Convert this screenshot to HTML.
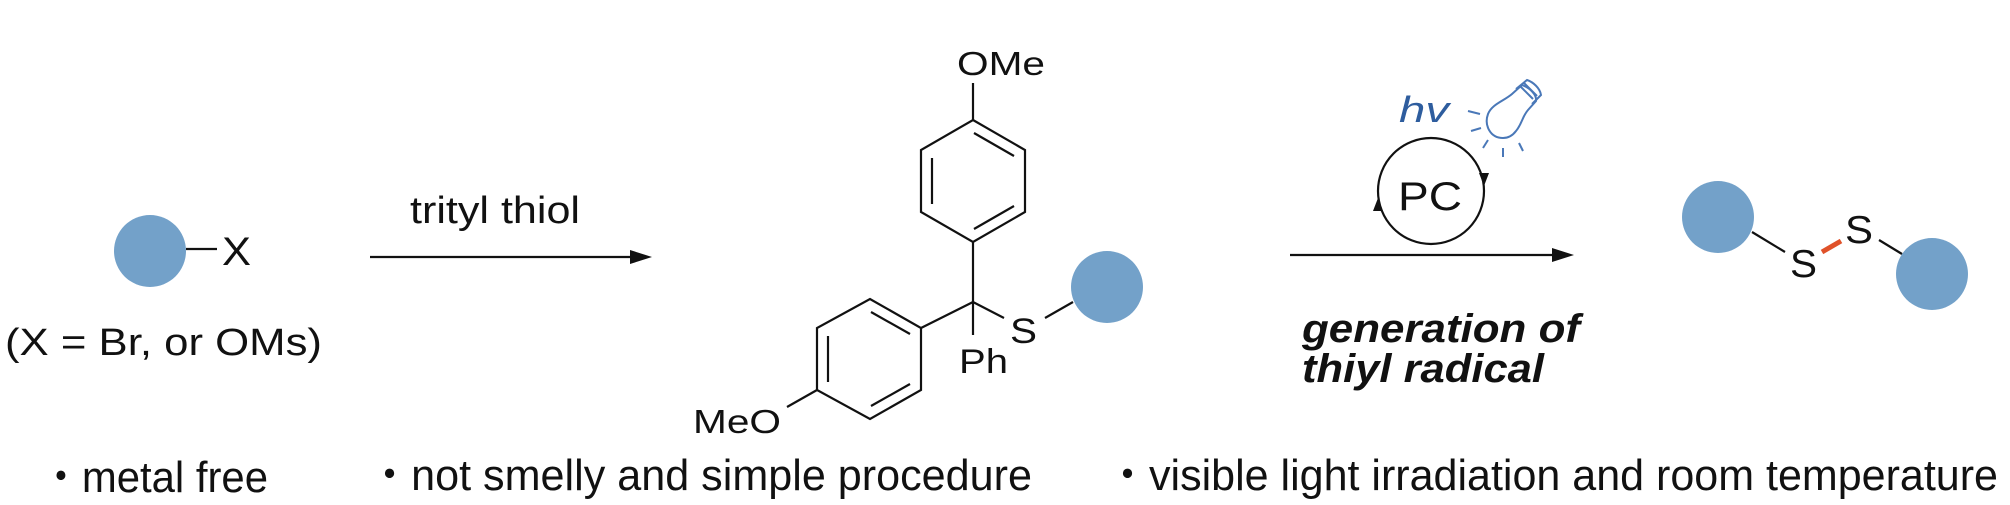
<!DOCTYPE html>
<html><head><meta charset="utf-8"><style>
html,body{margin:0;padding:0;background:#fff;}
svg{display:block;}
text{font-family:"Liberation Sans",sans-serif;fill:#111;}
</style></head><body>
<svg width="2010" height="505" viewBox="0 0 2010 505" xmlns="http://www.w3.org/2000/svg">
<g stroke="#111" stroke-width="2.2" fill="none">
  <line x1="186" y1="249" x2="217" y2="249"/>
  <line x1="370" y1="257" x2="636" y2="257"/>
  <line x1="973" y1="83" x2="973" y2="120"/>
  <polygon points="973,120 1025,150 1025,212 973,242 921,212 921,150"/>
  <line x1="932" y1="158" x2="932" y2="204"/>
  <line x1="1014" y1="156" x2="974" y2="133"/>
  <line x1="1014" y1="206" x2="974" y2="229"/>
  <line x1="973" y1="242" x2="973" y2="302"/>
  <line x1="973" y1="302" x2="973" y2="335"/>
  <line x1="973" y1="302" x2="921" y2="328"/>
  <polygon points="921,328 921,390 870,419 817,390 817,328 870,299"/>
  <line x1="828" y1="336" x2="828" y2="382"/>
  <line x1="910" y1="334" x2="871" y2="312"/>
  <line x1="910" y1="384" x2="871" y2="406"/>
  <line x1="817" y1="390" x2="787" y2="407"/>
  <line x1="973" y1="302" x2="1004" y2="318"/>
  <line x1="1045" y1="318" x2="1073" y2="302"/>
  <line x1="1290" y1="255" x2="1560" y2="255"/>
  <circle cx="1431" cy="191" r="53"/>
  <line x1="1752" y1="232" x2="1785" y2="252"/>
  <line x1="1879" y1="240" x2="1902" y2="254"/>
</g>
<polygon points="652,257 630,250 630,264" fill="#111"/>
<polygon points="1574,255 1552,248 1552,262" fill="#111"/>
<polygon points="1378,198 1373,211 1383,211" fill="#111"/>
<polygon points="1484,186 1479,173 1489,173" fill="#111"/>
<line x1="1822" y1="252" x2="1841" y2="241" stroke="#e0522a" stroke-width="5"/>
<g fill="#73a1c9">
  <ellipse cx="150" cy="251" rx="36" ry="36"/>
  <ellipse cx="1107" cy="287" rx="36" ry="36"/>
  <ellipse cx="1718" cy="217" rx="36" ry="36"/>
  <ellipse cx="1932" cy="274" rx="36" ry="36"/>
</g>
<g stroke="#4a78b8" stroke-width="2" fill="none">
  <path d="M1503 138 C1490 138 1484 125 1488 114 C1492 104 1504 101 1512 94 L1522 85 C1530 88 1537 95 1536 101 L1528 110 C1522 117 1522 124 1516 131 C1513 135 1509 138 1503 138 Z"/>
  <path d="M1516 89 L1527 80 C1533 82 1540 88 1541 95 L1532 104"/>
  <line x1="1520" y1="86" x2="1533" y2="99"/>
  <line x1="1524" y1="83" x2="1537" y2="96"/>
  <line x1="1468" y1="111" x2="1480" y2="114"/>
  <line x1="1471" y1="131" x2="1481" y2="128"/>
  <line x1="1483" y1="148" x2="1488" y2="140"/>
  <line x1="1503" y1="157" x2="1503" y2="148"/>
  <line x1="1523" y1="151" x2="1519" y2="143"/>
</g>
<text x="1399" y="122" font-size="36" font-style="italic" style="fill:#2e5d9e" textLength="50" lengthAdjust="spacingAndGlyphs">hv</text>
<text x="1398" y="210" font-size="40" textLength="64" lengthAdjust="spacingAndGlyphs">PC</text>
<text x="222" y="265" font-size="40" textLength="29" lengthAdjust="spacingAndGlyphs">X</text>
<text x="5" y="355" font-size="38" textLength="317" lengthAdjust="spacingAndGlyphs">(X = Br, or OMs)</text>
<text x="410" y="223" font-size="38" textLength="170" lengthAdjust="spacingAndGlyphs">trityl thiol</text>
<text x="957" y="75" font-size="33" textLength="88" lengthAdjust="spacingAndGlyphs">OMe</text>
<text x="693" y="433" font-size="33" textLength="88" lengthAdjust="spacingAndGlyphs">MeO</text>
<text x="959" y="373" font-size="34" textLength="49" lengthAdjust="spacingAndGlyphs">Ph</text>
<text x="1010" y="343" font-size="35" textLength="27" lengthAdjust="spacingAndGlyphs">S</text>
<text x="1790" y="277" font-size="39" textLength="27" lengthAdjust="spacingAndGlyphs">S</text>
<text x="1845" y="243" font-size="39" textLength="28" lengthAdjust="spacingAndGlyphs">S</text>
<text x="1302" y="342" font-size="40" font-weight="bold" font-style="italic" textLength="278" lengthAdjust="spacingAndGlyphs">generation of</text>
<text x="1302" y="382" font-size="40" font-weight="bold" font-style="italic" textLength="242" lengthAdjust="spacingAndGlyphs">thiyl radical</text>
<text x="40" y="492" font-size="44" textLength="228" lengthAdjust="spacingAndGlyphs">・metal free</text>
<text x="368" y="490" font-size="44" textLength="664" lengthAdjust="spacingAndGlyphs">・not smelly and simple procedure</text>
<text x="1106" y="490" font-size="44" textLength="892" lengthAdjust="spacingAndGlyphs">・visible light irradiation and room temperature</text>
</svg>
</body></html>
